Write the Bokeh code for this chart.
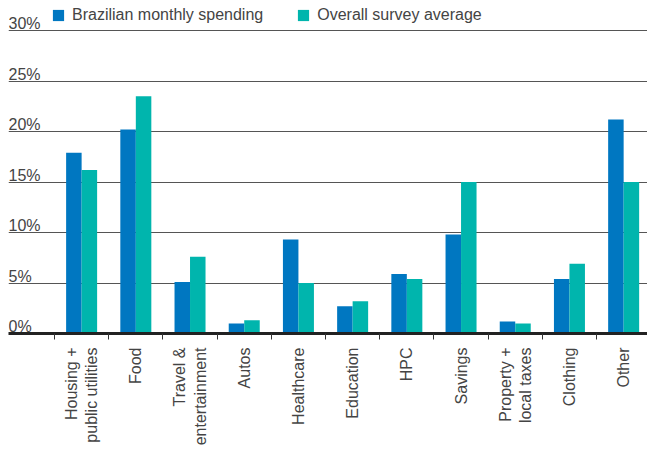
import numpy as np
from bokeh.plotting import figure
from bokeh.models import Range1d, FixedTicker, Legend, LegendItem
from bokeh.core.properties import value
from bokeh.embed import file_html
from bokeh.resources import INLINE

categories = ["Housing +\npublic utilities", "Food", "Travel &\nentertainment", "Autos",
              "Healthcare", "Education", "HPC", "Savings", "Property +\nlocal taxes",
              "Clothing", "Other"]
brazil = [17.9, 20.2, 5.1, 1.0, 9.3, 2.7, 5.9, 9.8, 1.2, 5.4, 21.2]
survey = [16.2, 23.5, 7.6, 1.3, 5.0, 3.2, 5.4, 15.0, 1.0, 6.9, 15.0]
y_ticks = [0, 5, 10, 15, 20, 25, 30]
y_tick_labels = ["0%", "5%", "10%", "15%", "20%", "25%", "30%"]
series_names = ["Brazilian monthly spending", "Overall survey average"]

BLUE = "#0077C1"
TEAL = "#00B5AD"
TXT = "#444444"
FONT = "Liberation Sans"

n = len(categories)
centers = np.arange(n) + 0.5
bounds = np.arange(n)
bar_w = 0.286

x_start = -0.849
x_end = 10.94
p = figure(frame_width=639, frame_height=326,
           x_range=Range1d(x_start, x_end), y_range=Range1d(0, 32.28),
           output_backend="svg", toolbar_location=None,
           min_border_left=8, min_border_right=0, min_border_top=7, min_border_bottom=0)
p.outline_line_color = None
p.background_fill_color = "white"
p.border_fill_color = "white"

# grid
p.xgrid.visible = False
p.ygrid.ticker = FixedTicker(ticks=y_ticks[1:])
p.ygrid.grid_line_color = "#555555"
p.ygrid.grid_line_width = 1
p.yaxis.visible = False

# bars
r1 = p.vbar(x=centers - bar_w / 2, width=bar_w, top=brazil, bottom=0,
            fill_color=BLUE, line_color=None)
r2 = p.vbar(x=centers + bar_w / 2, width=bar_w, top=survey, bottom=0,
            fill_color=TEAL, line_color=None)

# y tick labels (inside, above gridlines)
p.text(x=[x_start] * len(y_ticks), y=y_ticks, text=y_tick_labels,
       text_font=value(FONT), text_font_size="16px", text_color=TXT,
       text_align="left", text_baseline="alphabetic", y_offset=-7)

# x axis
xa = p.xaxis[0]
xa.ticker = FixedTicker(ticks=list(centers), minor_ticks=list(bounds))
xa.major_label_overrides = {float(c): lab for c, lab in zip(centers, categories)}
xa.major_label_orientation = np.pi / 2
xa.major_label_text_font = FONT
xa.major_label_text_font_size = "16px"
xa.major_label_text_color = TXT
xa.major_label_standoff = 8
xa.major_tick_out = 0
xa.major_tick_in = 0
xa.minor_tick_out = 6
xa.minor_tick_in = 0
xa.minor_tick_line_color = "#333333"
xa.minor_tick_line_width = 1
xa.axis_line_color = "#222222"
xa.axis_line_width = 3

legend = Legend(items=[LegendItem(label=series_names[0], renderers=[r1]),
                       LegendItem(label=series_names[1], renderers=[r2])],
                location=(43, 308), orientation="horizontal",
                glyph_width=14, glyph_height=14, label_standoff=7, spacing=33,
                padding=0, margin=0, border_line_color=None, background_fill_alpha=0,
                label_text_font=FONT, label_text_font_size="16px", label_text_color=TXT,
                label_height=20)
p.add_layout(legend)

open("out.html", "w").write(file_html(p, INLINE))
